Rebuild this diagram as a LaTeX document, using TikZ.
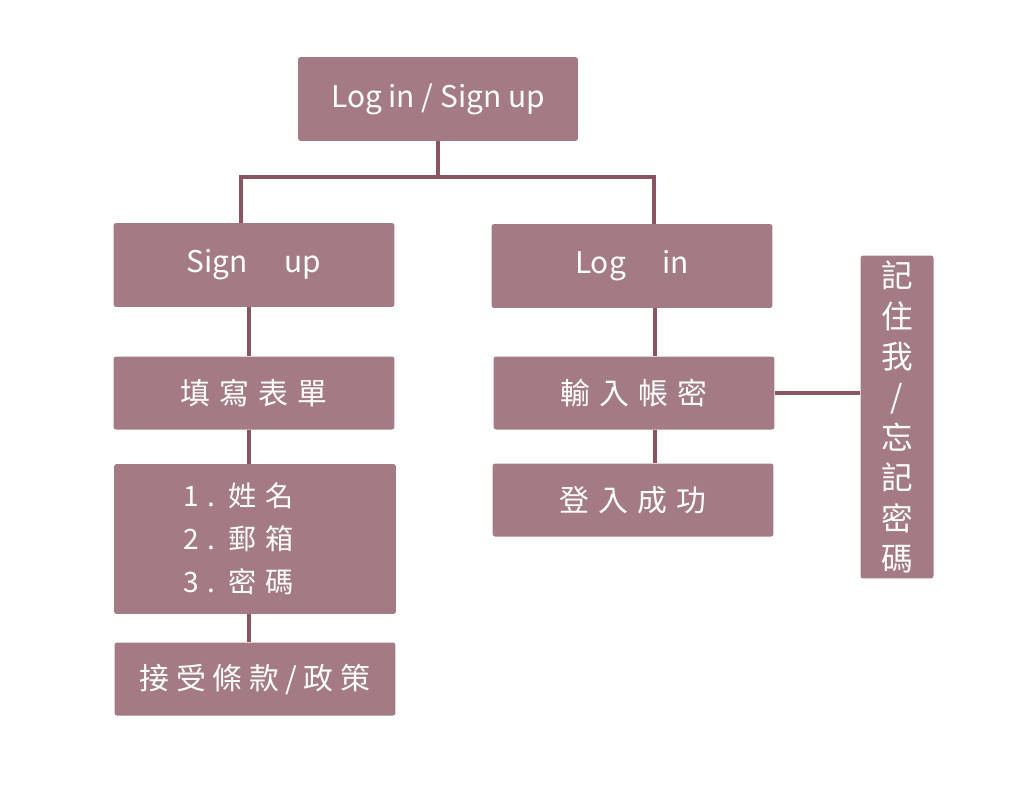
\documentclass[tikz,border=0pt]{standalone}
\usepackage{fontspec}
\setmainfont{Noto Sans CJK TC}
\newfontfamily\cjk[LetterSpace=30]{Noto Sans CJK TC}
\newfontfamily\cjktight[LetterSpace=22]{Noto Sans CJK TC}
\usetikzlibrary{positioning}
\definecolor{boxfill}{RGB}{164,123,133}
\definecolor{wirecol}{RGB}{138,84,99}
\tikzset{
  box/.style={fill=boxfill, rounded corners=1.5pt, text=white, inner sep=0pt,
    minimum width=5.62cm, minimum height=1.46cm, font=\fontsize{17}{20}\selectfont},
  tallbox/.style={box, minimum height=1.68cm},
  wire/.style={draw=wirecol, line width=2.3pt},
}

\begin{document}
\begin{tikzpicture}[x=0.02cm, y=-0.02cm]
\useasboundingbox (0,0) rectangle (1024,795);
% top
\node[tallbox, minimum width=5.6cm] (top) at (438,99) {Log in / Sign up};
% left branch
\node[tallbox] (signup) at (254,265) {Sign\quad\ up};
\node[box] (form) at (254,393) {\cjk 填寫表單};
\node[box, align=left, text width=2.88cm, inner xsep=1.38cm, minimum height=3cm,
  font=\fontsize{16}{24.5}\selectfont] (fields) at (255,539)
  {{\cjk 1. 姓名}\\{\cjk 2. 郵箱}\\{\cjk 3. 密碼}};
\node[box] (terms) at (255,679) {\cjktight 接受條款/政策};
% right branch
\node[tallbox] (login) at (632,266) {Log\quad\ in};
\node[box] (account) at (634,393) {\cjk 輸入帳密};
\node[box] (success) at (633,500) {\cjk 登入成功};
\node[box, minimum width=1.46cm, minimum height=6.46cm, align=center,
  font=\fontsize{18}{23}\selectfont] (remember) at (897,417)
  {記\\住\\我\\/\\忘\\記\\密\\碼};
% connectors
\coordinate (jl) at (241,177);
\coordinate (jr) at (654,177);
\coordinate (cl) at (249,0);
\coordinate (cr) at (655,0);
\draw[wire] (top.south) -- (top.south |- jl);
\draw[wire] (jl |- signup.north) -- (jl) -- (jr) -- (jr |- login.north);
\draw[wire] (signup.south -| cl) -- (form.north -| cl);
\draw[wire] (form.south -| cl) -- (fields.north -| cl);
\draw[wire] (fields.south -| cl) -- (terms.north -| cl);
\draw[wire] (login.south -| cr) -- (account.north -| cr);
\draw[wire] (account.south -| cr) -- (success.north -| cr);
\draw[wire] (account.east) -- (remember.west |- account.east);
\end{tikzpicture}
\end{document}
